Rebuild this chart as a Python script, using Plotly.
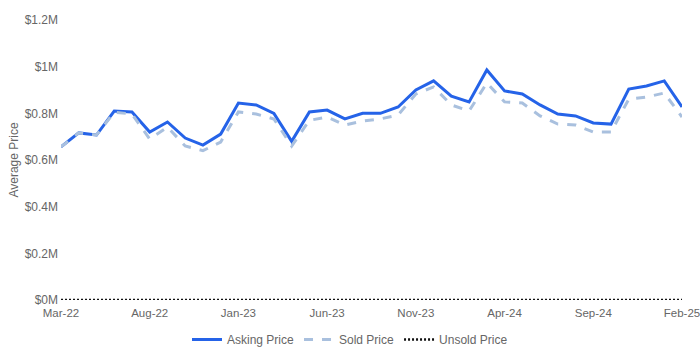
import plotly.graph_objects as go

months = ["Mar-22","Apr-22","May-22","Jun-22","Jul-22","Aug-22","Sep-22","Oct-22","Nov-22","Dec-22",
          "Jan-23","Feb-23","Mar-23","Apr-23","May-23","Jun-23","Jul-23","Aug-23","Sep-23","Oct-23",
          "Nov-23","Dec-23","Jan-24","Feb-24","Mar-24","Apr-24","May-24","Jun-24","Jul-24","Aug-24",
          "Sep-24","Oct-24","Nov-24","Dec-24","Jan-25","Feb-25"]

asking_price = [0.656,0.716,0.707,0.810,0.806,0.720,0.763,0.694,0.664,0.711,
                0.844,0.836,0.800,0.680,0.806,0.814,0.776,0.800,0.800,0.827,
                0.900,0.939,0.874,0.849,0.986,0.896,0.883,0.836,0.797,0.789,
                0.759,0.754,0.904,0.917,0.939,0.827]

sold_price = [0.656,0.716,0.707,0.805,0.797,0.690,0.741,0.660,0.640,0.677,
              0.806,0.797,0.776,0.660,0.770,0.784,0.750,0.767,0.776,0.793,
              0.883,0.913,0.836,0.810,0.930,0.849,0.844,0.789,0.754,0.750,
              0.720,0.720,0.861,0.870,0.887,0.784]

unsold_price = [0.0] * 36

x_tick_labels = ["Mar-22","Aug-22","Jan-23","Jun-23","Nov-23","Apr-24","Sep-24","Feb-25"]
y_tick_vals = [0, 0.2e6, 0.4e6, 0.6e6, 0.8e6, 1.0e6, 1.2e6]
y_tick_text = ["$0M","$0.2M","$0.4M","$0.6M","$0.8M","$1M","$1.2M"]

fig = go.Figure()
fig.add_trace(go.Scatter(x=months, y=[v*1e6 for v in asking_price], name="Asking Price",
                         mode="lines", line=dict(color="#2563e8", width=3)))
fig.add_trace(go.Scatter(x=months, y=[v*1e6 for v in sold_price], name="Sold Price",
                         mode="lines", line=dict(color="#a9c0de", width=3, dash="dash")))
fig.add_trace(go.Scatter(x=months, y=unsold_price, name="Unsold Price",
                         mode="lines", line=dict(color="#111111", width=2.5, dash="2px,2px")))

fig.update_layout(
    width=700, height=350,
    margin=dict(l=61, r=18, t=20, b=50, autoexpand=False),
    plot_bgcolor="white", paper_bgcolor="white",
    font=dict(family="Liberation Sans, Arial, sans-serif", size=12, color="#666666"),
    showlegend=True,
    legend=dict(orientation="h", xref="container", yref="container", x=0.5, xanchor="center",
                y=0.03, yanchor="middle", font=dict(size=12, color="#666666"), itemwidth=30),
    xaxis=dict(type="category", tickmode="array", tickvals=x_tick_labels, ticktext=x_tick_labels,
               showgrid=False, zeroline=False, showline=False, ticks="", range=[0, 35],
               tickfont=dict(size=11.5, color="#666666"), ticklabelstandoff=4),
    yaxis=dict(range=[0, 1.2e6], tickvals=y_tick_vals, ticktext=y_tick_text,
               showgrid=False, zeroline=False, showline=False, ticks="",
               title=dict(text="Average Price", font=dict(size=12, color="#666666"), standoff=3),
               tickfont=dict(size=12, color="#666666"), ticklabelstandoff=2),
)

fig.write_html("out.html")
